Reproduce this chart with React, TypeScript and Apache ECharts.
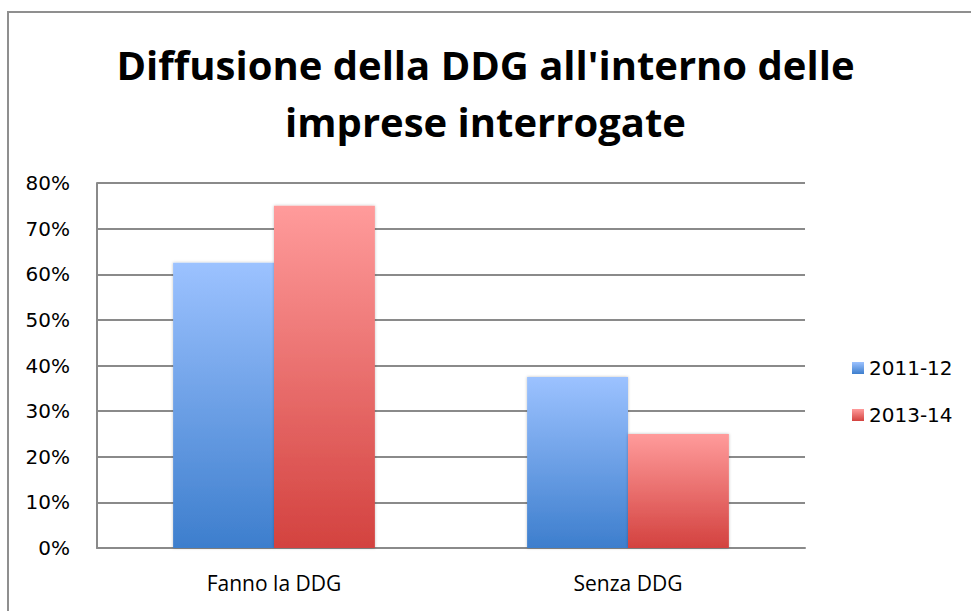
import React, { useEffect, useRef } from "react";
import * as echarts from "echarts";

const titleLines = ["Diffusione della DDG all'interno delle", "imprese interrogate"];
const categories = ["Fanno la DDG", "Senza DDG"];
const seriesNames = ["2011-12", "2013-14"];
const values2011 = [62.5, 37.5];
const values2013 = [75, 25];
const yTicks = { min: 0, max: 80, interval: 10 };

function grad(top: string, bottom: string) {
  return new echarts.graphic.LinearGradient(0, 0, 0, 1, [
    { offset: 0, color: top },
    { offset: 1, color: bottom },
  ]);
}

export default function App() {
  const ref = useRef<HTMLDivElement>(null);
  useEffect(() => {
    const chart = echarts.init(ref.current!, null, { renderer: "svg" });
    chart.setOption({
      animation: false,
      backgroundColor: "#ffffff",
      title: {
        text: titleLines.join("\n"),
        left: "center",
        top: 31,
        textStyle: {
          fontFamily: "Open Sans",
          fontWeight: "bold",
          fontSize: 40,
          lineHeight: 57,
          color: "#000000",
        },
      },
      graphic: [
        {
          type: "rect",
          shape: { x: 8, y: 12, width: 1200, height: 1200 },
          style: { fill: "none", stroke: "#8f8f8f", lineWidth: 2 },
          silent: true,
        },
      ],
      legend: {
        orient: "vertical",
        left: 847,
        top: 353,
        itemWidth: 12,
        itemHeight: 12,
        itemGap: 27,
        icon: "rect",
        textStyle: { fontFamily: "DejaVu Sans", fontSize: 20, color: "#000" },
        data: seriesNames,
      },
      grid: { left: 97, right: 166, top: 183, bottom: 63, containLabel: false },
      xAxis: {
        type: "category",
        data: categories,
        axisTick: { show: false },
        axisLine: { lineStyle: { color: "#8a8a8a", width: 2 } },
        axisLabel: {
          margin: 24,
          fontFamily: "Open Sans",
          fontSize: 21,
          color: "#000",
        },
      },
      yAxis: {
        type: "value",
        min: yTicks.min,
        max: yTicks.max,
        interval: yTicks.interval,
        axisLine: { show: true, lineStyle: { color: "#8a8a8a", width: 2 } },
        axisTick: { show: false },
        splitLine: { lineStyle: { color: "#8a8a8a", width: 2 } },
        axisLabel: {
          formatter: "{value}%",
          margin: 27,
          fontFamily: "DejaVu Sans",
          fontSize: 20,
          color: "#000",
        },
      },
      series: [
        {
          name: seriesNames[0],
          type: "bar",
          data: values2011,
          barGap: "0%",
          barCategoryGap: "43%",
          itemStyle: {
            color: grad("#9cc2ff", "#3d7ecd"),
            shadowColor: "rgba(0,0,0,0.25)",
            shadowBlur: 3,
          },
        },
        {
          name: seriesNames[1],
          type: "bar",
          data: values2013,
          barGap: "0%",
          barCategoryGap: "43%",
          itemStyle: {
            color: grad("#ff9b9b", "#d3423f"),
            shadowColor: "rgba(0,0,0,0.25)",
            shadowBlur: 3,
          },
        },
      ],
    });
    return () => chart.dispose();
  }, []);
  return <div ref={ref} style={{ width: 971, height: 611, position: "absolute", left: 0, top: 0 }} />;
}
